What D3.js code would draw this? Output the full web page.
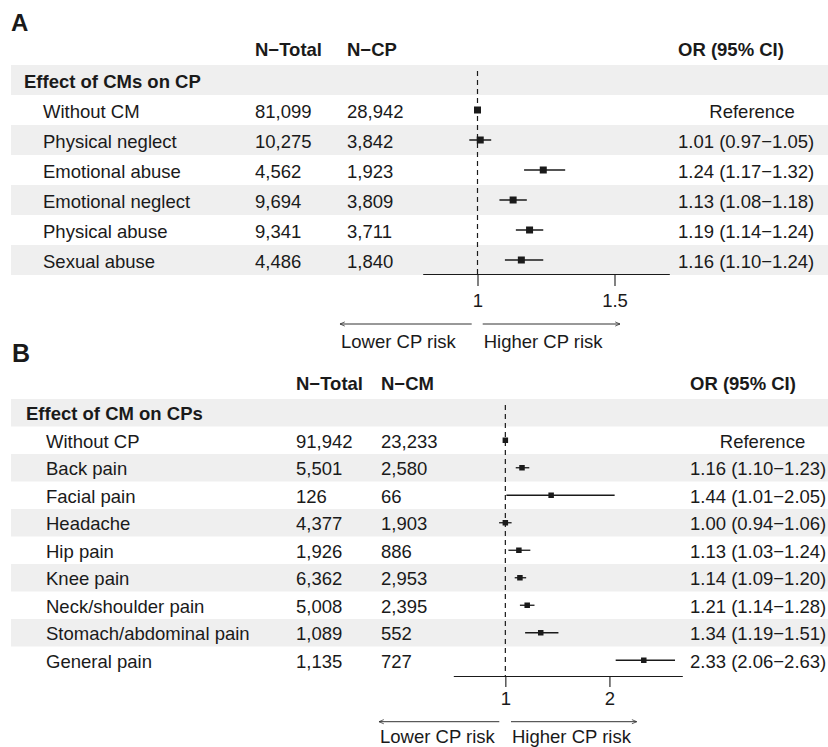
<!DOCTYPE html>
<html>
<head>
<meta charset="utf-8">
<script src="https://cdn.jsdelivr.net/npm/d3@7"></script>
<style>
html,body{margin:0;padding:0;background:#fff;}
svg text{font-family:"Liberation Sans",Arial,Helvetica,sans-serif;fill:#1a1a1a;}
</style>
</head>
<body>
<svg id="chart" width="828" height="747"></svg>
<script>
// ---------- Panel A data ----------
const groupA = "Effect of CMs on CP";
const headersA = ["N\u2212Total", "N\u2212CP", "OR (95% CI)"];
const labelsA = ["Without CM", "Physical neglect", "Emotional abuse", "Emotional neglect", "Physical abuse", "Sexual abuse"];
const nTotalA = ["81,099", "10,275", "4,562", "9,694", "9,341", "4,486"];
const nCasesA = ["28,942", "3,842", "1,923", "3,809", "3,711", "1,840"];
const orA   = [1.00, 1.01, 1.24, 1.13, 1.19, 1.16];
const lowA  = [null, 0.97, 1.17, 1.08, 1.14, 1.10];
const highA = [null, 1.05, 1.32, 1.18, 1.24, 1.24];
const orTextA = ["Reference", "1.01 (0.97\u22121.05)", "1.24 (1.17\u22121.32)", "1.13 (1.08\u22121.18)", "1.19 (1.14\u22121.24)", "1.16 (1.10\u22121.24)"];
const ticksA = [1, 1.5];
const xlimA = [0.8, 1.7];

// ---------- Panel B data ----------
const groupB = "Effect of CM on CPs";
const headersB = ["N\u2212Total", "N\u2212CM", "OR (95% CI)"];
const labelsB = ["Without CP", "Back pain", "Facial pain", "Headache", "Hip pain", "Knee pain", "Neck/shoulder pain", "Stomach/abdominal pain", "General pain"];
const nTotalB = ["91,942", "5,501", "126", "4,377", "1,926", "6,362", "5,008", "1,089", "1,135"];
const nCasesB = ["23,233", "2,580", "66", "1,903", "886", "2,953", "2,395", "552", "727"];
const orB   = [1.00, 1.16, 1.44, 1.00, 1.13, 1.14, 1.21, 1.34, 2.33];
const lowB  = [null, 1.10, 1.01, 0.94, 1.03, 1.09, 1.14, 1.19, 2.06];
const highB = [null, 1.23, 2.05, 1.06, 1.24, 1.20, 1.28, 1.51, 2.63];
const orTextB = ["Reference", "1.16 (1.10\u22121.23)", "1.44 (1.01\u22122.05)", "1.00 (0.94\u22121.06)", "1.13 (1.03\u22121.24)", "1.14 (1.09\u22121.20)", "1.21 (1.14\u22121.28)", "1.34 (1.19\u22121.51)", "2.33 (2.06\u22122.63)"];
const ticksB = [1, 2];
const xlimB = [0.5, 2.7];

const arrowLabels = ["Lower CP risk", "Higher CP risk"];

const FS = 18.5;
const svg = d3.select("#chart");
const defs = svg.append("defs");
defs.append("marker").attr("id", "arr").attr("viewBox", "0 0 10 10")
  .attr("refX", 9).attr("refY", 5).attr("markerWidth", 6).attr("markerHeight", 6)
  .attr("markerUnits", "userSpaceOnUse").attr("orient", "auto-start-reverse")
  .append("path").attr("d", "M1,1.5 L9,5 L1,8.5").attr("fill", "none")
  .attr("stroke", "#333").attr("stroke-width", 1.3);

function panel(cfg) {
  const g = svg.append("g");
  const n = cfg.labels.length;
  const rowY = i => cfg.top + i * cfg.h; // i=0 is the group row

  // alternating bands
  for (let i = 0; i <= n; i++) {
    if (i % 2 === 0) {
      g.append("rect").attr("x", 11).attr("y", rowY(i)).attr("width", 828 - 11)
        .attr("height", cfg.h).attr("fill", "#efefef");
    }
  }
  // panel letter
  g.append("text").attr("x", cfg.letterX).attr("y", cfg.letterY)
    .attr("font-size", cfg.letterSize).attr("font-weight", "bold").text(cfg.letter);

  // header
  const hb = cfg.headerY + 6.5;
  g.append("text").attr("x", cfg.col1X).attr("y", hb).attr("font-size", FS).attr("font-weight", "bold").text(cfg.headers[0]);
  g.append("text").attr("x", cfg.col2X).attr("y", hb).attr("font-size", FS).attr("font-weight", "bold").text(cfg.headers[1]);
  g.append("text").attr("x", cfg.orX).attr("y", hb).attr("font-size", FS).attr("font-weight", "bold").text(cfg.headers[2]);

  // group row
  const base = i => rowY(i) + cfg.h / 2 + 7.5;
  g.append("text").attr("x", cfg.groupX).attr("y", base(0)).attr("font-size", FS)
    .attr("font-weight", "bold").text(cfg.group);

  const x = d3.scaleLinear().domain(cfg.xlim).range(cfg.xrange);

  cfg.labels.forEach((lab, k) => {
    const i = k + 1;
    const b = base(i);
    g.append("text").attr("x", cfg.labelX).attr("y", b).attr("font-size", FS).text(lab);
    g.append("text").attr("x", cfg.col1X).attr("y", b).attr("font-size", FS).text(cfg.nTotal[k]);
    g.append("text").attr("x", cfg.col2X).attr("y", b).attr("font-size", FS).text(cfg.nCases[k]);
    const t = cfg.orText[k];
    if (t === "Reference") {
      g.append("text").attr("x", cfg.refX).attr("y", b).attr("font-size", FS)
        .attr("text-anchor", "middle").text(t);
    } else {
      g.append("text").attr("x", cfg.orX).attr("y", b).attr("font-size", FS).text(t);
    }
  });

  // dashed reference line
  g.append("line").attr("x1", x(1)).attr("x2", x(1))
    .attr("y1", cfg.top + 6).attr("y2", cfg.axisY)
    .attr("stroke", "#1a1a1a").attr("stroke-width", 1.2).attr("stroke-dasharray", "5,4");

  // CI lines and squares
  cfg.labels.forEach((lab, k) => {
    const cy = rowY(k + 1) + cfg.h / 2;
    if (cfg.low[k] !== null) {
      g.append("line").attr("x1", x(cfg.low[k])).attr("x2", x(cfg.high[k]))
        .attr("y1", cy).attr("y2", cy).attr("stroke", "#1a1a1a").attr("stroke-width", cfg.lw);
    }
    const s = cfg.box;
    g.append("rect").attr("x", x(cfg.or[k]) - s / 2).attr("y", cy - s / 2)
      .attr("width", s).attr("height", s).attr("fill", "#1a1a1a");
  });

  // axis
  const axis = d3.axisBottom(x).tickValues(cfg.ticks).tickSize(cfg.tickLen).tickSizeOuter(0)
    .tickFormat(d3.format("~g"));
  const ag = g.append("g").attr("transform", `translate(0,${cfg.axisY})`).call(axis);
  ag.select(".domain").attr("stroke", "#1a1a1a").attr("stroke-width", 1.1);
  ag.selectAll(".tick line").attr("stroke", "#1a1a1a").attr("stroke-width", 1.1);
  ag.selectAll(".tick text").attr("font-size", FS).attr("fill", "#1a1a1a")
    .attr("font-family", "Liberation Sans, Arial, sans-serif")
    .attr("dy", null).attr("y", cfg.tickBase - cfg.axisY);

  // arrows
  g.append("line").attr("x1", cfg.arrL[0]).attr("x2", cfg.arrL[1])
    .attr("y1", cfg.arrY).attr("y2", cfg.arrY).attr("stroke", "#333").attr("stroke-width", 1)
    .attr("marker-end", "url(#arr)");
  g.append("line").attr("x1", cfg.arrR[0]).attr("x2", cfg.arrR[1])
    .attr("y1", cfg.arrY).attr("y2", cfg.arrY).attr("stroke", "#333").attr("stroke-width", 1)
    .attr("marker-end", "url(#arr)");
  g.append("text").attr("x", cfg.arrL[1] + 1).attr("y", cfg.arrTextY).attr("font-size", FS).text(arrowLabels[0]);
  g.append("text").attr("x", cfg.arrR[0] + 1).attr("y", cfg.arrTextY).attr("font-size", FS).text(arrowLabels[1]);
}

panel({
  letter: "A", letterX: 11, letterY: 31, letterSize: 24,
  headers: headersA, group: groupA, labels: labelsA, nTotal: nTotalA, nCases: nCasesA,
  or: orA, low: lowA, high: highA, orText: orTextA, ticks: ticksA, xlim: xlimA,
  headerY: 49, top: 65, h: 30,
  groupX: 24, labelX: 43, col1X: 255, col2X: 347, orX: 678, refX: 752,
  xrange: [422.7, 669.3], axisY: 274, tickLen: 12, tickBase: 306.5,
  arrY: 324, arrL: [471.7, 340], arrR: [482.7, 620], arrTextY: 347.7,
  box: 7, lw: 1.5
});

panel({
  letter: "B", letterX: 12, letterY: 362, letterSize: 25,
  headers: headersB, group: groupB, labels: labelsB, nTotal: nTotalB, nCases: nCasesB,
  or: orB, low: lowB, high: highB, orText: orTextB, ticks: ticksB, xlim: xlimB,
  headerY: 383.5, top: 399, h: 27.5,
  groupX: 26, labelX: 46, col1X: 296, col2X: 381, orX: 690, refX: 762.5,
  xrange: [453.3, 682.3], axisY: 676, tickLen: 11, tickBase: 705,
  arrY: 721.7, arrL: [499.3, 379], arrR: [511, 636.7], arrTextY: 743,
  box: 5.5, lw: 1.3
});
</script>
</body>
</html>
